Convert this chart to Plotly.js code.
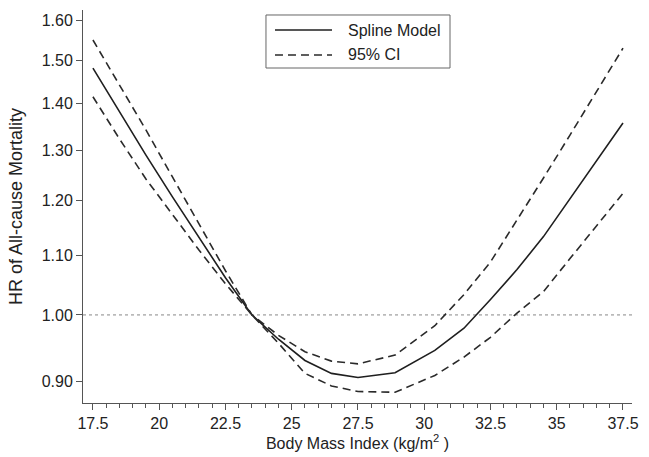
<!DOCTYPE html>
<html>
<head>
<meta charset="utf-8">
<script src="https://cdn.plot.ly/plotly-3.0.1.min.js"></script>
<style>html,body{margin:0;padding:0;background:#fff;}#chart{width:649px;height:457px;}</style>
</head>
<body>
<div id="chart"></div>
<script>
// Body mass index (kg/m2)
const bmi = [17.5, 18.5, 19.5, 20.5, 21.5, 22.5, 23.5, 24.5, 25.5, 26.5, 27.5, 28.9, 30.4, 31.5, 32.5, 33.5, 34.5, 35.5, 36.5, 37.5];
// Hazard ratio, spline model
const hrSpline = [1.482, 1.382, 1.290, 1.207, 1.131, 1.061, 1.000, 0.962, 0.930, 0.911, 0.905, 0.912, 0.945, 0.979, 1.025, 1.075, 1.133, 1.203, 1.278, 1.358];
// 95% CI upper bound
const hrUpper = [1.550, 1.443, 1.343, 1.246, 1.156, 1.073, 1.000, 0.968, 0.943, 0.929, 0.925, 0.938, 0.983, 1.033, 1.088, 1.163, 1.244, 1.332, 1.429, 1.530];
// 95% CI lower bound
const hrLower = [1.416, 1.324, 1.242, 1.173, 1.109, 1.051, 1.000, 0.956, 0.911, 0.893, 0.885, 0.884, 0.908, 0.935, 0.965, 1.003, 1.038, 1.094, 1.152, 1.214];
// Axis ticks
const xTicks = [17.5, 20, 22.5, 25, 27.5, 30, 32.5, 35, 37.5];
const xTickText = ["17.5", "20", "22.5", "25", "27.5", "30", "32.5", "35", "37.5"];
const yTicks = [0.9, 1.0, 1.1, 1.2, 1.3, 1.4, 1.5, 1.6];
const yTickText = ["0.90", "1.00", "1.10", "1.20", "1.30", "1.40", "1.50", "1.60"];
const refHR = 1.0;
// Legend entries
const legendNames = ["Spline Model", "95% CI"];

const FONT = "Liberation Sans, Arial, Helvetica, sans-serif";
const dashStyle = "8px,5px";
const lineColor = "#1f1f1f";

const traces = [
  {x: bmi, y: hrSpline, type: "scatter", mode: "lines", name: legendNames[0],
   line: {color: lineColor, width: 1.6}},
  {x: bmi, y: hrUpper, type: "scatter", mode: "lines", name: legendNames[1],
   line: {color: "#2a2a2a", width: 1.6, dash: dashStyle}},
  {x: bmi, y: hrLower, type: "scatter", mode: "lines", name: legendNames[1],
   line: {color: "#2a2a2a", width: 1.6, dash: dashStyle}}
];

// Custom legend box (paper coordinates), matching the reference's long key lines
const lg = {x0: 0.3333, x1: 0.6685, y0: 0.8524, y1: 0.9873, lx0: 0.3497, lx1: 0.4536, tx: 0.4791, rows: [0.9491, 0.8855]};

const layout = {
  width: 649, height: 457,
  margin: {l: 83, r: 17, t: 10, b: 54},
  paper_bgcolor: "#fff", plot_bgcolor: "#fff",
  font: {family: FONT, size: 16, color: "#222"},
  showlegend: false,
  xaxis: {
    range: [17.125, 37.84], showgrid: false, zeroline: false,
    showline: true, linecolor: "#555", linewidth: 1, mirror: false,
    tickmode: "array", tickvals: xTicks, ticktext: xTickText,
    ticks: "outside", ticklen: 6, tickcolor: "#555", tickwidth: 1,
    minor: {dtick: 0.5, tick0: 17.5, ticks: "outside", ticklen: 4, tickcolor: "#555", showgrid: false},
    tickfont: {family: FONT, size: 16, color: "#222"},
    title: {text: "Body Mass Index (kg/m<sup>2</sup> )", font: {family: FONT, size: 16, color: "#222"}, standoff: 4}
  },
  yaxis: {
    type: "log", range: [Math.log10(0.869), Math.log10(1.626)],
    showgrid: false, zeroline: false,
    showline: true, linecolor: "#555", linewidth: 1,
    tickmode: "array", tickvals: yTicks, ticktext: yTickText,
    ticks: "outside", ticklen: 6, tickcolor: "#555", tickwidth: 1,
    tickfont: {family: FONT, size: 16, color: "#222"},
    title: {text: "HR of All-cause Mortality", font: {family: FONT, size: 18, color: "#222"}, standoff: 14}
  },
  shapes: [
    {type: "line", xref: "paper", x0: 0, x1: 1, yref: "y", y0: refHR, y1: refHR,
     line: {color: "#888", width: 1, dash: "dot"}, layer: "below"},
    {type: "rect", xref: "paper", yref: "paper", x0: lg.x0, x1: lg.x1, y0: lg.y0, y1: lg.y1,
     line: {color: "#666", width: 1}, fillcolor: "#fff", layer: "above"},
    {type: "line", xref: "paper", yref: "paper", x0: lg.lx0, x1: lg.lx1, y0: lg.rows[0], y1: lg.rows[0],
     line: {color: lineColor, width: 1.6}},
    {type: "line", xref: "paper", yref: "paper", x0: lg.lx0, x1: lg.lx1, y0: lg.rows[1], y1: lg.rows[1],
     line: {color: "#2a2a2a", width: 1.6, dash: dashStyle}}
  ],
  annotations: legendNames.map((t, i) => ({
    text: t, xref: "paper", yref: "paper", x: lg.tx, y: lg.rows[i],
    xanchor: "left", yanchor: "middle", showarrow: false,
    font: {family: FONT, size: 16, color: "#222"}
  }))
};

Plotly.newPlot("chart", traces, layout, {displayModeBar: false, staticPlot: true});
</script>
</body>
</html>
